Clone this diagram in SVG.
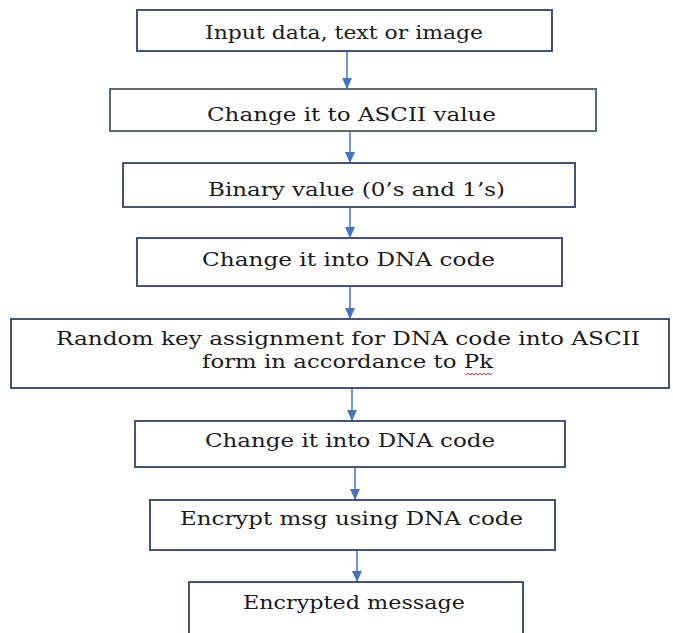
<svg xmlns="http://www.w3.org/2000/svg" width="673" height="633" viewBox="0 0 673 633">
<style>
.box{fill:#ffffff;stroke:#44527e;stroke-width:2}
.box2{fill:#ffffff;stroke:#5b6a70;stroke-width:2}
.t{font-family:"DejaVu Serif",serif;font-size:19px;fill:#1a1a1a}
.c line{stroke:#4472c4;stroke-width:1.5}
</style>
<defs>
<marker id="ah" markerWidth="12" markerHeight="10" refX="11" refY="5" orient="auto" markerUnits="userSpaceOnUse">
<path d="M0,0 L11,5 L0,10 Z" fill="#4472c4"/>
</marker>
</defs>
<rect width="673" height="633" fill="#ffffff"/>
<g id="connectors" class="c">
<line x1="347" y1="51" x2="347" y2="89" marker-end="url(#ah)"/>
<line x1="350" y1="131" x2="350" y2="163" marker-end="url(#ah)"/>
<line x1="350" y1="207" x2="350" y2="238" marker-end="url(#ah)"/>
<line x1="350" y1="286" x2="350" y2="319" marker-end="url(#ah)"/>
<line x1="352" y1="389" x2="352" y2="421" marker-end="url(#ah)"/>
<line x1="355" y1="468" x2="355" y2="500" marker-end="url(#ah)"/>
<line x1="357" y1="551" x2="357" y2="582" marker-end="url(#ah)"/>
</g>
<g id="n1"><rect class="box" x="137" y="10" width="415" height="41"/><text class="t" x="205" y="39" textLength="278" lengthAdjust="spacingAndGlyphs">Input data, text or image</text></g>
<g id="n2"><rect class="box2" x="110" y="89" width="486" height="42"/><text class="t" x="207" y="121" textLength="289" lengthAdjust="spacingAndGlyphs">Change it to ASCII value</text></g>
<g id="n3"><rect class="box" x="123" y="163" width="452" height="44"/><text class="t" x="208" y="196" textLength="297" lengthAdjust="spacingAndGlyphs">Binary value (0’s and 1’s)</text></g>
<g id="n4"><rect class="box" x="137" y="238" width="425" height="48"/><text class="t" x="202" y="266" textLength="293" lengthAdjust="spacingAndGlyphs">Change it into DNA code</text></g>
<g id="n5"><rect class="box" x="11" y="319" width="658" height="69"/>
<text class="t" x="56" y="345" textLength="584" lengthAdjust="spacingAndGlyphs">Random key assignment for DNA code into ASCII</text>
<text class="t" x="202" y="368" textLength="291" lengthAdjust="spacingAndGlyphs">form in accordance to Pk</text>
<path d="M466,375 l2,-2 l2,2 l2,-2 l2,2 l2,-2 l2,2 l2,-2 l2,2 l2,-2 l2,2 l2,-2 l2,2 l2,-2" fill="none" stroke="#d02020" stroke-width="0.9"/>
</g>
<g id="n6"><rect class="box" x="135" y="421" width="430" height="46"/><text class="t" x="205" y="447" textLength="290" lengthAdjust="spacingAndGlyphs">Change it into DNA code</text></g>
<g id="n7"><rect class="box" x="150" y="500" width="405" height="50"/><text class="t" x="180" y="525" textLength="343" lengthAdjust="spacingAndGlyphs">Encrypt msg using DNA code</text></g>
<g id="n8"><rect class="box" x="189" y="582" width="334" height="60"/><text class="t" x="243" y="609" textLength="222" lengthAdjust="spacingAndGlyphs">Encrypted message</text></g>
</svg>
